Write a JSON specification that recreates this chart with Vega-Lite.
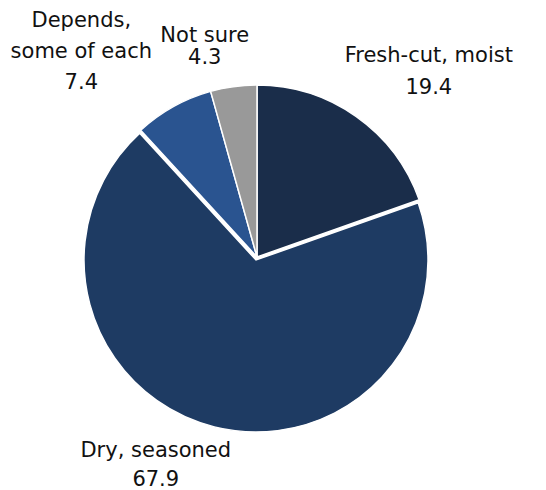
{
  "$schema": "https://vega.github.io/schema/vega-lite/v6.json",
  "width": 514,
  "height": 514,
  "padding": 0,
  "autosize": "none",
  "background": "white",
  "view": {"stroke": null},
  "data": {"values": [
    {"cat": "Fresh-cut, moist", "value": 19.4, "idx": 1, "lines": ["Fresh-cut, moist", "19.4"]},
    {"cat": "Dry, seasoned", "value": 67.9, "idx": 2, "lines": ["Dry, seasoned", "67.9"]},
    {"cat": "Depends, some of each", "value": 7.4, "idx": 3, "lines": ["Depends,", "some of each", "7.4"]},
    {"cat": "Not sure", "value": 4.3, "idx": 4, "lines": ["Not sure", "4.3"]}
  ]},
  "layer": [
    {
      "transform": [
        {"stack": "value", "groupby": [], "sort": [{"field": "idx"}], "as": ["v0", "v1"]},
        {"filter": "datum.idx !== 2"}
      ],
      "mark": {"type": "arc", "radius": 172, "stroke": "white", "strokeWidth": 1.5},
      "encoding": {
        "theta": {"field": "v0", "type": "quantitative"},
        "theta2": {"field": "v1"},
        "color": {"field": "cat", "type": "nominal", "legend": null,
          "scale": {"domain": ["Fresh-cut, moist", "Dry, seasoned", "Depends, some of each", "Not sure"],
                    "range": ["#1a2d4a", "#1e3b63", "#2a5490", "#999999"]}}
      }
    },
    {
      "transform": [
        {"stack": "value", "groupby": [], "sort": [{"field": "idx"}], "as": ["v0", "v1"]},
        {"filter": "datum.idx === 2"}
      ],
      "mark": {"type": "arc", "radius": 172, "stroke": "white", "strokeWidth": 1.5, "xOffset": -1, "yOffset": 3},
      "encoding": {
        "theta": {"field": "v0", "type": "quantitative"},
        "theta2": {"field": "v1"},
        "color": {"field": "cat", "type": "nominal", "legend": null}
      }
    },
    {
      "mark": {"type": "text", "radius": 230, "dx": 39, "dy": -13, "font": "DejaVu Sans", "fontSize": 21, "lineHeight": 32, "color": "#111111", "align": "center", "baseline": "middle"},
      "encoding": {
        "theta": {"field": "value", "type": "quantitative", "stack": true},
        "order": {"field": "idx"},
        "text": {"condition": {"test": "datum.idx === 1", "field": "lines"}, "value": ""}
      }
    },
    {
      "mark": {"type": "text", "radius": 220, "dx": -48, "dy": -19, "font": "DejaVu Sans", "fontSize": 21, "lineHeight": 29, "color": "#111111", "align": "center", "baseline": "middle"},
      "encoding": {
        "theta": {"field": "value", "type": "quantitative", "stack": true},
        "order": {"field": "idx"},
        "text": {"condition": {"test": "datum.idx === 2", "field": "lines"}, "value": ""}
      }
    },
    {
      "mark": {"type": "text", "radius": 240, "dx": -59, "dy": -26, "font": "DejaVu Sans", "fontSize": 21, "lineHeight": 31, "color": "#111111", "align": "center", "baseline": "middle"},
      "encoding": {
        "theta": {"field": "value", "type": "quantitative", "stack": true},
        "order": {"field": "idx"},
        "text": {"condition": {"test": "datum.idx === 3", "field": "lines"}, "value": ""}
      }
    },
    {
      "mark": {"type": "text", "radius": 215, "dx": -23, "dy": -8, "font": "DejaVu Sans", "fontSize": 21, "lineHeight": 22, "color": "#111111", "align": "center", "baseline": "middle"},
      "encoding": {
        "theta": {"field": "value", "type": "quantitative", "stack": true},
        "order": {"field": "idx"},
        "text": {"condition": {"test": "datum.idx === 4", "field": "lines"}, "value": ""}
      }
    }
  ]
}
